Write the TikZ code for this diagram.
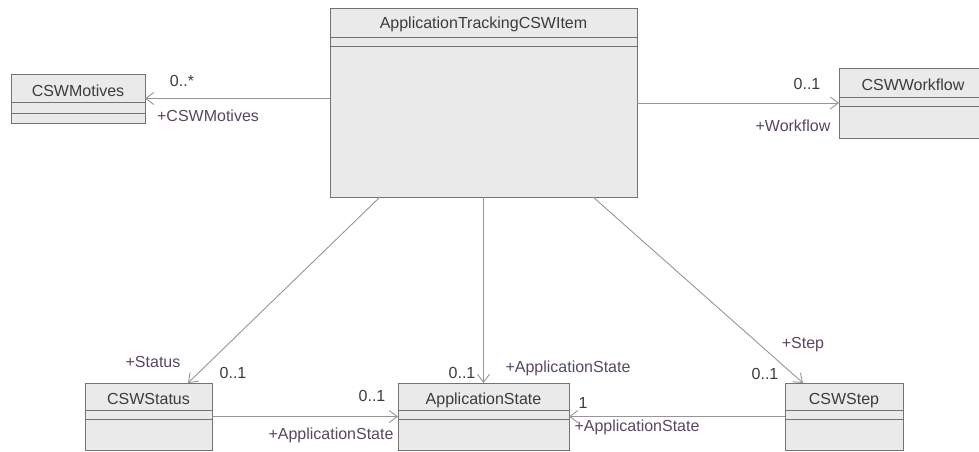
\documentclass[tikz,border=0pt]{standalone}
\usepackage{fontspec}
\setmainfont{Liberation Sans}
\usetikzlibrary{arrows.meta,positioning}
\definecolor{boxfill}{RGB}{234,234,234}
\definecolor{boxline}{RGB}{115,115,115}
\definecolor{assocline}{RGB}{150,150,150}
\definecolor{roletext}{RGB}{88,70,98}
\definecolor{multtext}{RGB}{60,60,60}

\begin{document}
\begin{tikzpicture}[x=1pt,y=-1pt,
  font=\fontsize{16}{19}\selectfont,
  classbox/.style={draw=boxline,fill=boxfill,line width=0.9pt,inner sep=0pt,outer sep=0pt},
  classname/.style={text=multtext,inner sep=0pt,anchor=base},
  compline/.style={draw=boxline,line width=0.9pt},
  assoc/.style={draw=assocline,line width=0.9pt,-{Straight Barb[length=8pt,width=12pt]}},
  role/.style={text=roletext,inner sep=0pt},
  mult/.style={text=multtext,inner sep=0pt}]
\useasboundingbox (0,0) rectangle (979,452);

%%classes
\node[classbox,minimum width=307pt,minimum height=189pt] (item) at (483.5,102.5) {};
\node[classbox,minimum width=134pt,minimum height=49pt] (motives) at (78,98.5) {};
\node[classbox,minimum width=148pt,minimum height=70pt] (workflow) at (913,103) {};
\node[classbox,minimum width=127pt,minimum height=67pt] (status) at (148.5,416.5) {};
\node[classbox,minimum width=171pt,minimum height=67pt] (appstate) at (483.5,416.5) {};
\node[classbox,minimum width=118pt,minimum height=67pt] (step) at (844,416.5) {};

%%compartments
\draw[compline] (item.west |- 0,37) -- (item.east |- 0,37);
\draw[compline] (item.west |- 0,46) -- (item.east |- 0,46);
\draw[compline] (motives.west |- 0,102) -- (motives.east |- 0,102);
\draw[compline] (motives.west |- 0,113) -- (motives.east |- 0,113);
\draw[compline] (workflow.west |- 0,97) -- (workflow.east |- 0,97);
\draw[compline] (workflow.west |- 0,106) -- (workflow.east |- 0,106);
\draw[compline] (status.west |- 0,410) -- (status.east |- 0,410);
\draw[compline] (status.west |- 0,419) -- (status.east |- 0,419);
\draw[compline] (appstate.west |- 0,410) -- (appstate.east |- 0,410);
\draw[compline] (appstate.west |- 0,419) -- (appstate.east |- 0,419);
\draw[compline] (step.west |- 0,410) -- (step.east |- 0,410);
\draw[compline] (step.west |- 0,419) -- (step.east |- 0,419);

%%names
\node[classname] (itemname) at (483.5,29) {ApplicationTrackingCSWItem};
\node[classname] (motivesname) at (78,96) {CSWMotives};
\node[classname] (workflowname) at (913,90) {CSWWorkflow};
\node[classname] (statusname) at (148.5,404) {CSWStatus};
\node[classname] (appstatename) at (483.5,404) {ApplicationState};
\node[classname] (stepname) at (844,404) {CSWStep};

%%associations
\draw[assoc] (item.west |- motives.east) -- (motives.east);
\draw[assoc] (item.east |- workflow.west) -- (workflow.west);
\draw[assoc] ([xshift=-103.5pt]item.south) -- ([xshift=39.5pt]status.north);
\draw[assoc] (item.south -| appstate.north) -- (appstate.north);
\draw[assoc] ([xshift=109.5pt]item.south) -- ([xshift=-41pt]step.north);
\draw[assoc] (status.east) -- (appstate.west);
\draw[assoc] (step.west) -- (appstate.east);

%%labels
\node[mult] (motivesmult) at (182,81) {0..*};
\node[role] (motivesrole) at (208,116) {+CSWMotives};
\node[mult] (workflowmult) at (807,84) {0..1};
\node[role] (workflowrole) at (793,126) {+Workflow};
\node[role] (statusrole) at (153,362) {+Status};
\node[mult] (statusmult) at (233,373) {0..1};
\node[mult] (appstatemult) at (462,373) {0..1};
\node[role] (appstaterole) at (568,368) {+ApplicationState};
\node[role] (steprole) at (803,345) {+Step};
\node[mult] (stepmult) at (765,374) {0..1};
\node[mult] (statusappmult) at (372,396) {0..1};
\node[role] (statusapprole) at (331,435) {+ApplicationState};
\node[mult] (stepappmult) at (583,403) {1};
\node[role] (stepapprole) at (637,427) {+ApplicationState};
\end{tikzpicture}
\end{document}
